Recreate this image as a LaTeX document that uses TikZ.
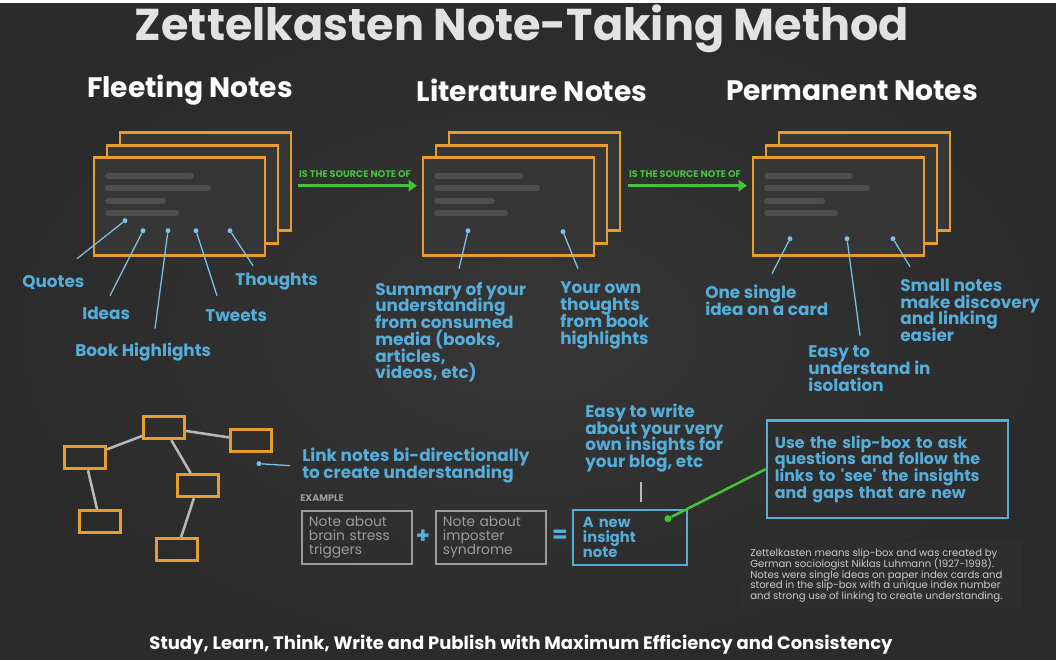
\documentclass[tikz,border=0pt]{standalone}
\usepackage{fontspec}
\setmainfont{Poppins}
\usepackage{tikz}
\usetikzlibrary{arrows.meta}
\definecolor{boardgray}{HTML}{363636}
\definecolor{boardedge}{HTML}{2B2B2B}
\definecolor{notebg}{HTML}{2E2E2E}
\definecolor{cardorange}{HTML}{E79D2C}
\definecolor{blurgray}{HTML}{4E4E4E}
\definecolor{labelblue}{HTML}{55ADD9}
\definecolor{pointblue}{HTML}{7CC3E3}
\definecolor{sourcegreen}{HTML}{43C23A}
\definecolor{titlegray}{HTML}{E2E2E2}
\definecolor{examplegray}{HTML}{9C9C9C}
\definecolor{edgegray}{HTML}{B8B8B8}
\definecolor{smallgray}{HTML}{CACACA}
\newcommand{\tightlines}{\lineskiplimit -8pt\relax}

\begin{document}
\begin{tikzpicture}[x=0.025cm,y=-0.025cm,
  card/.style={draw=cardorange,line width=2.1pt,fill=boardgray},
  blurline/.style={draw=blurgray,line width=4.3pt,line cap=round},
  heading/.style={text=white,font=\bfseries\fontsize{20}{20}\selectfont},
  tag/.style={text=labelblue,font=\bfseries\fontsize{12}{11.9}\selectfont\tightlines,align=left,inner sep=0pt},
  pointer/.style={draw=pointblue,line width=0.9pt},
  tipdot/.style={circle,fill=pointblue,inner sep=0pt,minimum size=3.5pt},
  srcarrow/.style={draw=sourcegreen,line width=2.1pt,-{Triangle[length=6pt,width=8pt]}},
  srclabel/.style={text=sourcegreen,font=\bfseries\fontsize{6.8}{7}\selectfont,inner sep=0pt},
  mapbox/.style={draw=cardorange,line width=2pt,minimum width=1.03cm,minimum height=0.56cm,inner sep=0pt},
  mapedge/.style={draw=edgegray,line width=1.8pt},
  notebox/.style={draw=examplegray,line width=1.4pt,text=examplegray,font=\fontsize{9.8}{10}\selectfont\tightlines,
    align=left,minimum height=1.325cm,inner xsep=0.175cm,text width=2.4cm},
  insightbox/.style={draw=labelblue,line width=1.6pt,text=labelblue,font=\bfseries\fontsize{10.5}{10.5}\selectfont\tightlines,
    align=left,minimum height=1.375cm,inner xsep=0.25cm,text width=2.35cm},
  askframe/.style={draw=labelblue,line width=1.8pt,fill=notebg,text=labelblue,
    font=\bfseries\fontsize{11.3}{11.9}\selectfont\tightlines,align=left,minimum height=2.43cm,
    inner xsep=0.2cm,text width=5.63cm}]

  % board
  \shade[inner color=boardgray,outer color=boardedge] (0,0) rectangle (1056,656);
  \fill[notebg] (742,538) rectangle (1022,604);

  % titles
  \node[text=titlegray,font=\bfseries\fontsize{31.7}{32}\selectfont] (title) at (522,25) {Zettelkasten Note-Taking Method};
  \node[heading] (fleeting) at (190,86) {Fleeting Notes};
  \node[heading] (literature) at (532,87) {Literature Notes};
  \node[heading] (permanent) at (852,87) {Permanent Notes};

  % card stacks
  \foreach \sx in {94,423,753} {
    \foreach \dx/\dy in {26/-25,13/-12.5,0/0}
      \draw[card] (\sx+\dx,154+\dy) rectangle ++(171,98);
    \foreach \ly/\len in {172/83,184/100,197/55,209/68}
      \draw[blurline] (\sx+14,\ly) -- ++(\len,0);
  }

  % source arrows
  \coordinate (src1a) at (298,182);
  \coordinate (src1b) at (417,182);
  \coordinate (src2a) at (628,182);
  \coordinate (src2b) at (747,182);
  \draw[srcarrow] (src1a) -- (src1b);
  \draw[srcarrow] (src2a) -- (src2b);
  \node[srclabel] (src1lbl) at (355,170) {IS THE SOURCE NOTE OF};
  \node[srclabel] (src2lbl) at (685,170) {IS THE SOURCE NOTE OF};

  % pointers from the cards
  \foreach \pname/\ax/\ay/\bx/\by in {pq/125/217/77/255, pi/143/227/110/292, pb/168/227/155/325,
      pt/196/227/217/292, ph/230/227/253/262, ps/468/227/459/265, po/563/228/578/265,
      pc/790/235/772/270, pe/847/235/860/332, pn/893/235/910/263} {
    \node[tipdot] (\pname) at (\ax,\ay) {};
    \coordinate (\pname-end) at (\bx,\by);
    \draw[pointer] (\pname) -- (\pname-end);
  }

  % labels
  \node[tag,anchor=west] (quotes) at (22,279) {Quotes};
  \node[tag,anchor=west] (ideas) at (82,310) {Ideas};
  \node[tag,anchor=west] (bookhl) at (75,348) {Book Highlights};
  \node[tag,anchor=west] (tweets) at (205,312) {Tweets};
  \node[tag,anchor=west] (thoughts) at (235,278) {Thoughts};
  \node[tag,anchor=north west] (summary) at (375,278)
    {Summary of your\\understanding\\from consumed\\media (books,\\articles,\\videos, etc)};
  \node[tag,anchor=north west] (ownthoughts) at (560,278) {Your own\\thoughts\\from book\\highlights};
  \node[tag,anchor=north west] (onecard) at (705,281) {One single\\idea on a card};
  \node[tag,anchor=north west] (isolation) at (808,342) {Easy to\\understand in\\isolation};
  \node[tag,anchor=north west] (smallnotes) at (900,275) {Small notes\\make discovery\\and linking\\easier};

  % linked notes
  \node[mapbox] (mtop) at (164,424) {};
  \node[mapbox] (mright) at (251,437) {};
  \node[mapbox] (mleft) at (85,454) {};
  \node[mapbox] (mmid) at (198,482) {};
  \node[mapbox] (mlow) at (100,518) {};
  \node[mapbox] (mbottom) at (177,546) {};
  \draw[mapedge] (mtop) -- (mleft);
  \draw[mapedge] (mtop) -- (mright);
  \draw[mapedge] (mtop) -- (mmid);
  \draw[mapedge] (mleft) -- (mlow);
  \draw[mapedge] (mmid) -- (mbottom);

  \node[tipdot] (plink) at (259,460) {};
  \coordinate (plink-end) at (290,462);
  \draw[pointer] (plink) -- (plink-end);
  \node[tag,anchor=north west] (linknotes) at (302,444) {Link notes bi-directionally\\to create understanding};

  % example
  \node[text=examplegray,font=\bfseries\fontsize{6.8}{7}\selectfont,anchor=west,inner sep=0pt] (example) at (300,494) {EXAMPLE};
  \node[notebox] (stress) at (357,533.5) {Note about\\brain stress\\triggers};
  \node[notebox] (imposter) at (491,533.5) {Note about\\imposter\\syndrome};
  \node[insightbox] (insight) at (630,533.5) {A new\\insight\\note};
  \node[text=labelblue,font=\bfseries\fontsize{16}{16}\selectfont] (plus) at (423,533) {+};
  \node[text=labelblue,font=\bfseries\fontsize{16}{16}\selectfont] (equals) at (560,533) {=};

  \node[tag,anchor=north west] (blogtext) at (585,400) {Easy to write\\about your very\\own insights for\\your blog, etc};
  \coordinate (blog-a) at (641,478);
  \coordinate (blog-b) at (641,498);
  \draw[draw=edgegray,line width=0.9pt] (blog-a) -- (blog-b);

  \node[askframe] (ask) at (887.5,465.5) {Use the slip-box to ask\\questions and follow the\\links to \textquotesingle see\textquotesingle{} the insights\\and gaps that are new};
  \node[circle,fill=sourcegreen,inner sep=0pt,minimum size=5pt] (gdot) at (668,515) {};
  \draw[draw=sourcegreen,line width=1.8pt] (gdot) -- (ask.west);

  % history note
  \node[text=smallgray,font=\fontsize{7.2}{7.6}\selectfont\tightlines,align=left,anchor=north west,inner sep=0pt] (history) at (750,545)
    {Zettelkasten means slip-box and was created by\\German sociologist Niklas Luhmann (1927-1998).\\Notes were single ideas on paper index cards and\\stored in the slip-box with a unique index number\\and strong use of linking to create understanding.};

  \node[text=white,font=\bfseries\fontsize{12.8}{13}\selectfont] (footer) at (521,641)
    {Study, Learn, Think, Write and Publish with Maximum Efficiency and Consistency};
\end{tikzpicture}
\end{document}
